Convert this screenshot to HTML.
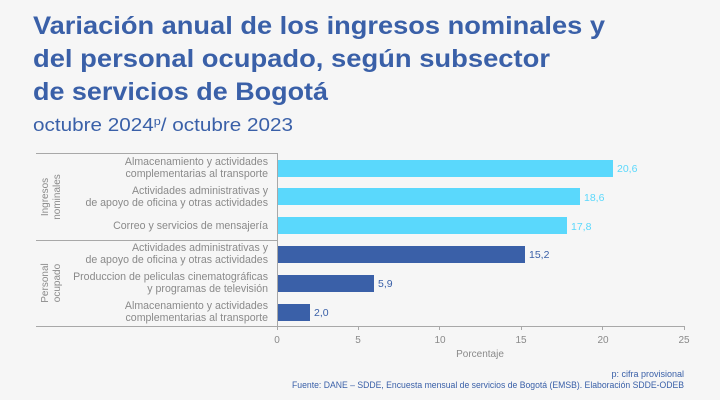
<!DOCTYPE html>
<html><head><meta charset="utf-8"><style>
html,body{margin:0;padding:0;background:#f6f6f6;}
svg{display:block;font-family:"Liberation Sans",sans-serif;}
</style></head><body>
<svg width="720" height="400" viewBox="0 0 720 400" xmlns="http://www.w3.org/2000/svg">
<rect width="720" height="400" fill="#f6f6f6"/>
<g fill="#3a60a8" font-weight="bold" font-size="25">
<text x="33" y="34" textLength="572" lengthAdjust="spacingAndGlyphs">Variación anual de los ingresos nominales y</text>
<text x="33" y="67" textLength="517" lengthAdjust="spacingAndGlyphs">del personal ocupado, según subsector</text>
<text x="33" y="100" textLength="295" lengthAdjust="spacingAndGlyphs">de servicios de Bogotá</text>
</g>
<text x="33" y="131" fill="#3a60a8" font-size="18" textLength="260" lengthAdjust="spacingAndGlyphs">octubre 2024<tspan font-size="11" dy="-6">p</tspan><tspan dy="6">/ octubre 2023</tspan></text>
<g stroke="#a8a8a8" stroke-width="1" fill="none">
<line x1="36" y1="153.5" x2="277" y2="153.5"/>
<line x1="36" y1="240.5" x2="277" y2="240.5"/>
<line x1="36" y1="326.5" x2="684" y2="326.5"/>
<line x1="277.5" y1="153" x2="277.5" y2="330"/>
<line x1="358.5" y1="326" x2="358.5" y2="330"/>
<line x1="439.5" y1="326" x2="439.5" y2="330"/>
<line x1="521.5" y1="326" x2="521.5" y2="330"/>
<line x1="602.5" y1="326" x2="602.5" y2="330"/>
<line x1="684.5" y1="326" x2="684.5" y2="330"/>
</g>
<g fill="#5ad8fc">
<rect x="278" y="160" width="335" height="17"/>
<rect x="278" y="188" width="302" height="17"/>
<rect x="278" y="217" width="289" height="17"/>
</g>
<g fill="#3a60a8">
<rect x="278" y="246" width="247" height="17"/>
<rect x="278" y="275" width="96" height="17"/>
<rect x="278" y="304" width="32" height="17"/>
</g>
<g font-size="10.5" fill="#5ad8fc">
<text x="617" y="172">20,6</text>
<text x="584" y="201">18,6</text>
<text x="571" y="230">17,8</text>
</g>
<g font-size="10.5" fill="#3a60a8">
<text x="529" y="258">15,2</text>
<text x="378" y="287">5,9</text>
<text x="314" y="316">2,0</text>
</g>
<g font-size="10.6" fill="#8a8a8a" text-anchor="end">
<text x="268" y="165">Almacenamiento y actividades</text>
<text x="268" y="177">complementarias al transporte</text>
<text x="268" y="194">Actividades administrativas y</text>
<text x="268" y="206">de apoyo de oficina y otras actividades</text>
<text x="268" y="229">Correo y servicios de mensajería</text>
<text x="268" y="251">Actividades administrativas y</text>
<text x="268" y="263">de apoyo de oficina y otras actividades</text>
<text x="268" y="280">Produccion de peliculas cinematográficas</text>
<text x="268" y="292">y programas de televisión</text>
<text x="268" y="309">Almacenamiento y actividades</text>
<text x="268" y="321">complementarias al transporte</text>
</g>
<g font-size="10" fill="#8a8a8a" text-anchor="middle">
<text transform="translate(48,197) rotate(-90)">Ingresos</text>
<text transform="translate(60,197) rotate(-90)">nominales</text>
<text transform="translate(48,283) rotate(-90)">Personal</text>
<text transform="translate(60,283) rotate(-90)">ocupado</text>
<text x="277" y="343">0</text>
<text x="358" y="343">5</text>
<text x="440" y="343">10</text>
<text x="521" y="343">15</text>
<text x="603" y="343">20</text>
<text x="684" y="343">25</text>
<text x="480" y="357">Porcentaje</text>
</g>
<g font-size="9" fill="#3a60a8" text-anchor="end">
<text x="684" y="377">p: cifra provisional</text>
<text x="684" y="388" textLength="392" lengthAdjust="spacingAndGlyphs">Fuente: DANE – SDDE, Encuesta mensual de servicios de Bogotá (EMSB). Elaboración SDDE-ODEB</text>
</g>
</svg>
</body></html>
